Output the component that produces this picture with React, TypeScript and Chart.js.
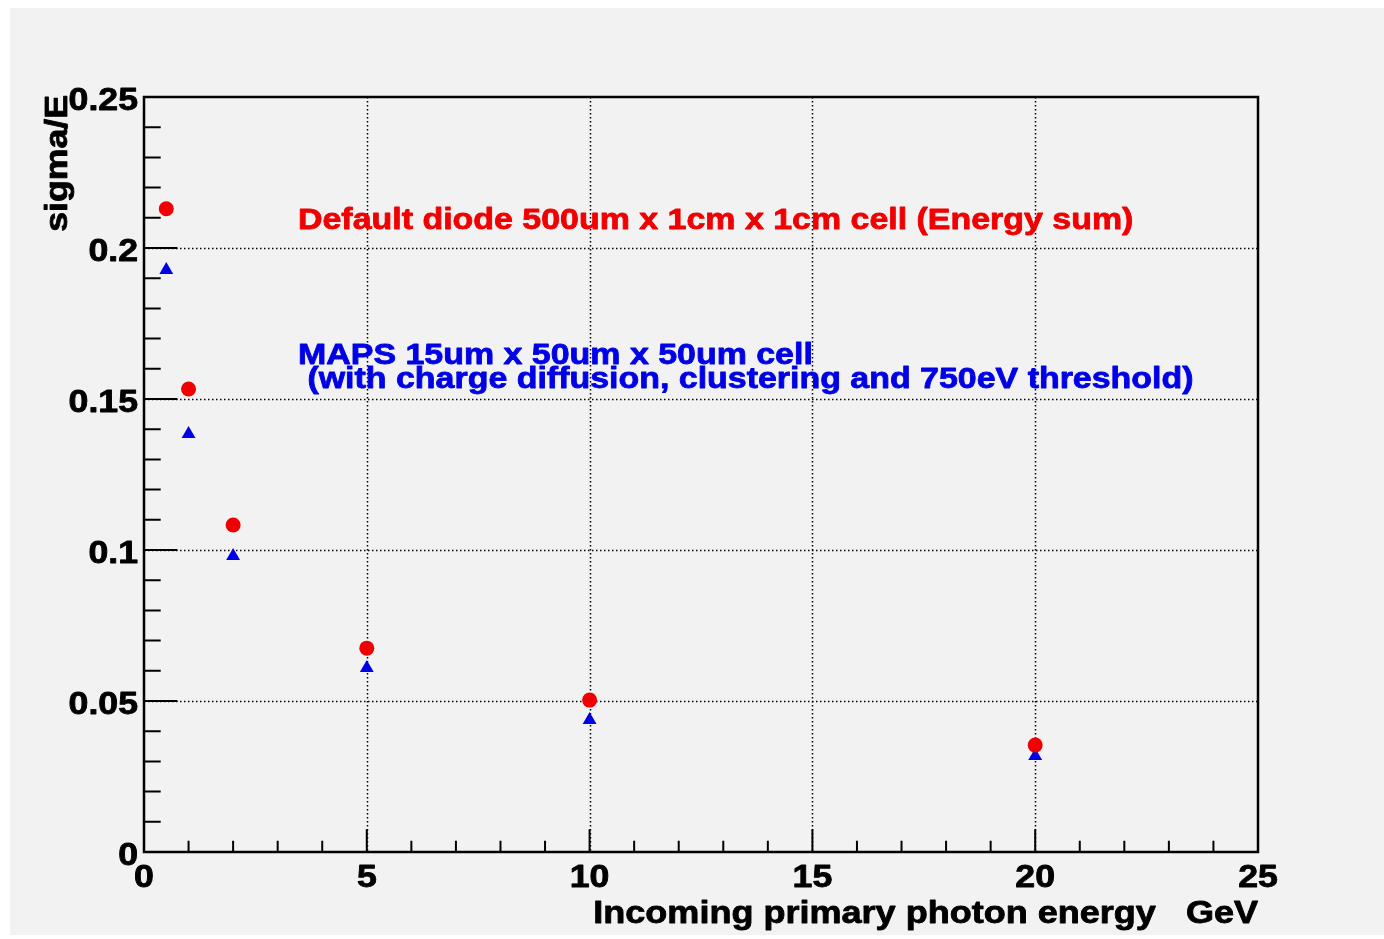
import React, { useEffect, useRef } from "react";
import { Chart, registerables } from "chart.js";

Chart.register(...registerables);

const energies = [0.5, 1, 2, 5, 10, 20];
const diodeSigma = [0.213, 0.1533, 0.1083, 0.0675, 0.0503, 0.0354];
const mapsSigma = [0.1927, 0.1384, 0.098, 0.0609, 0.0437, 0.0318];

const xMajorTicks = [0, 5, 10, 15, 20, 25];
const xTickLabels = ["0", "5", "10", "15", "20", "25"];
const yMajorTicks = [0, 0.05, 0.1, 0.15, 0.2, 0.25];
const yTickLabels = ["0", "0.05", "0.1", "0.15", "0.2", "0.25"];
const xGridValues = [5, 10, 15, 20];
const yGridValues = [0.05, 0.1, 0.15, 0.2];

const xTitle = "Incoming primary photon energy   GeV";
const yTitle = "sigma/E";
const diodeLabel = "Default diode 500um x 1cm x 1cm cell (Energy sum)";
const mapsLabel1 = "MAPS 15um x 50um x 50um cell";
const mapsLabel2 = " (with charge diffusion, clustering and 750eV threshold)";

const FONT = '"Liberation Sans", Arial, sans-serif';
const STRETCH = 1.17;
const RED = "#f00000";
const BLUE = "#0000e6";
const BG = "#f2f2f2";

function drawText(
  ctx: CanvasRenderingContext2D,
  text: string,
  x: number,
  y: number,
  size: number,
  align: CanvasTextAlign,
  color: string,
  rotate = 0
) {
  ctx.save();
  ctx.translate(x, y);
  if (rotate) ctx.rotate(rotate);
  ctx.scale(STRETCH, 1);
  ctx.font = `bold ${size}px ${FONT}`;
  ctx.textAlign = align;
  ctx.textBaseline = "alphabetic";
  ctx.fillStyle = color;
  ctx.strokeStyle = color;
  ctx.lineWidth = 0.8;
  ctx.lineJoin = "round";
  ctx.fillText(text, 0, 0);
  ctx.strokeText(text, 0, 0);
  ctx.restore();
}

const rootStylePlugin = {
  id: "rootStyle",
  beforeDraw(chart: any) {
    const ctx = chart.ctx as CanvasRenderingContext2D;
    ctx.save();
    ctx.fillStyle = "#ffffff";
    ctx.fillRect(0, 0, chart.width, chart.height);
    ctx.fillStyle = BG;
    ctx.fillRect(10, 8, chart.width - 10, 927);
    ctx.restore();
  },
  beforeDatasetsDraw(chart: any) {
    const ctx = chart.ctx as CanvasRenderingContext2D;
    const xs = chart.scales.x;
    const ys = chart.scales.y;
    const a = chart.chartArea;
    const w = a.right - a.left;
    const h = a.bottom - a.top;
    ctx.save();

    // dotted grid
    ctx.strokeStyle = "#000";
    ctx.lineWidth = 1.5;
    ctx.setLineDash([1.5, 2.5]);
    for (const v of xGridValues) {
      const px = Math.round(xs.getPixelForValue(v)) + 0.5;
      ctx.beginPath();
      ctx.moveTo(px, a.top);
      ctx.lineTo(px, a.bottom);
      ctx.stroke();
    }
    for (const v of yGridValues) {
      const py = Math.round(ys.getPixelForValue(v)) + 0.5;
      ctx.beginPath();
      ctx.moveTo(a.left, py);
      ctx.lineTo(a.right, py);
      ctx.stroke();
    }
    ctx.setLineDash([]);

    // ticks
    ctx.lineWidth = 2;
    const xMaj = 0.03 * h;
    const yMaj = 0.03 * w;
    ctx.beginPath();
    for (let i = 0; i < xMajorTicks.length; i++) {
      const px = xs.getPixelForValue(xMajorTicks[i]);
      ctx.moveTo(px, a.bottom);
      ctx.lineTo(px, a.bottom - xMaj);
      if (i < xMajorTicks.length - 1) {
        const step = (xMajorTicks[i + 1] - xMajorTicks[i]) / 5;
        for (let k = 1; k < 5; k++) {
          const mx = xs.getPixelForValue(xMajorTicks[i] + k * step);
          ctx.moveTo(mx, a.bottom);
          ctx.lineTo(mx, a.bottom - xMaj / 2);
        }
      }
    }
    for (let i = 0; i < yMajorTicks.length; i++) {
      const py = ys.getPixelForValue(yMajorTicks[i]);
      ctx.moveTo(a.left, py);
      ctx.lineTo(a.left + yMaj, py);
      if (i < yMajorTicks.length - 1) {
        const step = (yMajorTicks[i + 1] - yMajorTicks[i]) / 5;
        for (let k = 1; k < 5; k++) {
          const my = ys.getPixelForValue(yMajorTicks[i] + k * step);
          ctx.moveTo(a.left, my);
          ctx.lineTo(a.left + yMaj / 2, my);
        }
      }
    }
    ctx.stroke();

    // frame
    ctx.lineWidth = 2.5;
    ctx.strokeRect(a.left, a.top, w, h);

    // tick labels
    for (let i = 0; i < xMajorTicks.length; i++) {
      drawText(ctx, xTickLabels[i], xs.getPixelForValue(xMajorTicks[i]), a.bottom + 35, 30.5, "center", "#000");
    }
    for (let i = 0; i < yMajorTicks.length; i++) {
      drawText(ctx, yTickLabels[i], a.left - 6, ys.getPixelForValue(yMajorTicks[i]) + 13, 30.5, "right", "#000");
    }

    // axis titles
    drawText(ctx, xTitle, a.right, 923, 30.8, "right", "#000");
    drawText(ctx, yTitle, 67, a.top - 2, 30.5, "right", "#000", -Math.PI / 2);

    // annotations
    drawText(ctx, diodeLabel, 298, 229, 29, "left", RED);
    drawText(ctx, mapsLabel1, 298, 364, 29, "left", BLUE);
    drawText(ctx, mapsLabel2, 298, 388, 29, "left", BLUE);

    ctx.restore();
  },
};

export default function App() {
  const ref = useRef<HTMLCanvasElement | null>(null);
  useEffect(() => {
    if (!ref.current) return;
    const chart = new Chart(ref.current, {
      type: "scatter",
      data: {
        datasets: [
          {
            label: "diode",
            data: energies.map((e, i) => ({ x: e, y: diodeSigma[i] })),
            pointStyle: "circle",
            pointRadius: 7.5,
            pointBackgroundColor: RED,
            pointBorderColor: RED,
            pointBorderWidth: 0,
          },
          {
            label: "MAPS",
            data: energies.map((e, i) => ({ x: e, y: mapsSigma[i] })),
            pointStyle: "triangle",
            pointRadius: 8,
            pointBackgroundColor: BLUE,
            pointBorderColor: BLUE,
            pointBorderWidth: 0,
          },
        ],
      },
      options: {
        responsive: false,
        animation: false,
        layout: { padding: { left: 144, top: 97, right: 126, bottom: 87 } },
        plugins: { legend: { display: false }, tooltip: { enabled: false } },
        scales: {
          x: { type: "linear", min: 0, max: 25, display: false },
          y: { type: "linear", min: 0, max: 0.25, display: false },
        },
      },
      plugins: [rootStylePlugin],
    } as any);
    return () => chart.destroy();
  }, []);
  return (
    <div style={{ position: "fixed", left: 0, top: 0, width: 1384, height: 939, background: "#fff" }}>
      <canvas ref={ref} width={1384} height={939} style={{ display: "block", width: 1384, height: 939 }} />
    </div>
  );
}
